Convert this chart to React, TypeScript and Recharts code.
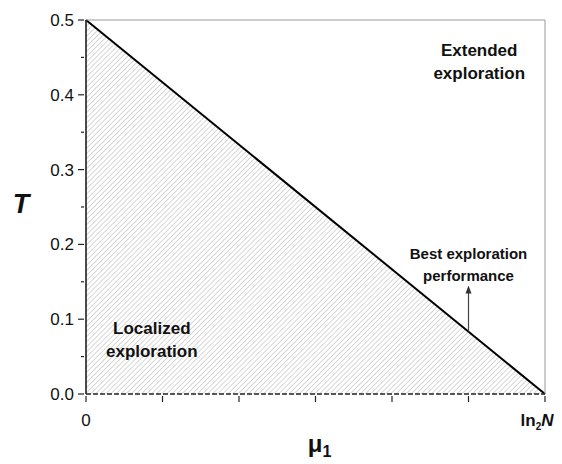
import { ComposedChart, Area, XAxis, YAxis, ReferenceLine, ReferenceDot } from "recharts"

// boundary line: T goes from 0.5 at mu=0 down to 0 at mu=ln2N
const muValues = [0, 6]
const tValues = [0.5, 0]
const xTicks = [0, 1, 2, 3, 4, 5, 6]
const yTicks = [0, 0.05, 0.1, 0.15, 0.2, 0.25, 0.3, 0.35, 0.4, 0.45, 0.5]
const yTickLabels = ["0.0", "0.1", "0.2", "0.3", "0.4", "0.5"]

const data = muValues.map((mu, i) => ({ mu, t: tValues[i] }))

const font = "'Liberation Sans', Arial, sans-serif"

function YTick(props: any) {
  const { x, y, payload } = props
  const v = payload.value
  const major = Math.round(v * 100) % 10 === 0
  return (
    <g>
      <line x1={x - (major ? 6 : 3)} x2={x} y1={y} y2={y} stroke="#222" strokeWidth={1.2} />
      {major && (
        <text x={x - 10} y={y} dy={6} textAnchor="end" fontSize={17} fontFamily={font} fill="#111">
          {yTickLabels[Math.round(v * 10)]}
        </text>
      )}
    </g>
  )
}

function XTick(props: any) {
  const { x, y, payload } = props
  const v = payload.value
  return (
    <g>
      <line x1={x} x2={x} y1={y} y2={y + 6} stroke="#222" strokeWidth={1.2} />
      {v === 0 && (
        <text x={x} y={y + 30} textAnchor="middle" fontSize={17} fontFamily={font} fill="#111">0</text>
      )}
      {v === 6 && (
        <text x={x - 8} y={y + 30} textAnchor="middle" fontSize={17} fontWeight="bold" fontFamily={font} fill="#111">
          ln<tspan fontSize={10} dy={4}>2</tspan><tspan dy={-4} fontStyle="italic">N</tspan>
        </text>
      )}
    </g>
  )
}

function YLabel(props: any) {
  const { viewBox } = props
  return (
    <text x={viewBox.x + 21} y={viewBox.y + viewBox.height / 2 + 6} textAnchor="middle" fontSize={27}
      fontWeight="bold" fontStyle="italic" fontFamily={font} fill="#111">T</text>
  )
}

function XLabel(props: any) {
  const { viewBox } = props
  return (
    <text x={viewBox.x + viewBox.width / 2 + 4} y={viewBox.y + 58} textAnchor="middle" fontSize={24}
      fontWeight="bold" fontFamily={font} fill="#111">
      μ<tspan fontSize={16} dy={5}>1</tspan>
    </text>
  )
}

const textShape = (lines: string[], size: number, gap: number) => (p: any) => (
  <text x={p.cx} y={p.cy} textAnchor="middle" fontSize={size} fontWeight="bold" fontFamily={font} fill="#111">
    {lines.map((l, i) => (
      <tspan key={i} x={p.cx} dy={i === 0 ? 0 : gap}>{l}</tspan>
    ))}
  </text>
)

const arrowHead = (p: any) => (
  <polygon points={`${p.cx},${p.cy} ${p.cx - 3},${p.cy + 8} ${p.cx + 3},${p.cy + 8}`} fill="#333" />
)

export default function App() {
  return (
    <div style={{ position: "absolute", left: 0, top: 0, width: 562, height: 464, background: "#fff" }}>
      <ComposedChart width={562} height={464} data={data} margin={{ top: 20, right: 17, left: 0, bottom: 0 }}>
        <defs>
          <pattern id="hatch" patternUnits="userSpaceOnUse" width={3.6} height={10} patternTransform="rotate(45)">
            <line x1={0} y1={0} x2={0} y2={10} stroke="#b0b0b0" strokeWidth={1} />
          </pattern>
        </defs>
        <XAxis
          dataKey="mu"
          type="number"
          domain={[0, 6]}
          ticks={xTicks}
          tickSize={0}
          tick={<XTick />}
          height={70}
          axisLine={false}
          label={<XLabel />}
        />
        <YAxis
          type="number"
          domain={[0, 0.5]}
          ticks={yTicks}
          tickSize={0}
          tick={<YTick />}
          width={86}
          axisLine={false}
          label={<YLabel />}
        />
        <Area
          type="linear"
          dataKey="t"
          stroke="#000"
          strokeWidth={2}
          fill="url(#hatch)"
          fillOpacity={1}
          isAnimationActive={false}
          dot={false}
          activeDot={false}
        />
        <ReferenceLine y={0.5} stroke="#999" strokeWidth={1} />
        <ReferenceLine x={6} stroke="#999" strokeWidth={1} />
        <ReferenceLine x={0} stroke="#111" strokeWidth={1.5} />
        <ReferenceLine y={0} stroke="#222" strokeWidth={1.5} strokeDasharray="5 2" />
        <ReferenceLine segment={[{ x: 5, y: 0.0833 }, { x: 5, y: 0.14 }]} stroke="#444" strokeWidth={1.2} />
        <ReferenceDot x={5} y={0.145} r={0} shape={arrowHead} />
        <ReferenceDot x={5.14} y={0.452} r={0} shape={textShape(["Extended", "exploration"], 17, 23)} />
        <ReferenceDot x={5.0} y={0.18} r={0} shape={textShape(["Best exploration", "performance"], 15, 22)} />
        <ReferenceDot x={0.86} y={0.08} r={0} shape={textShape(["Localized", "exploration"], 17, 23)} />
      </ComposedChart>
    </div>
  )
}
